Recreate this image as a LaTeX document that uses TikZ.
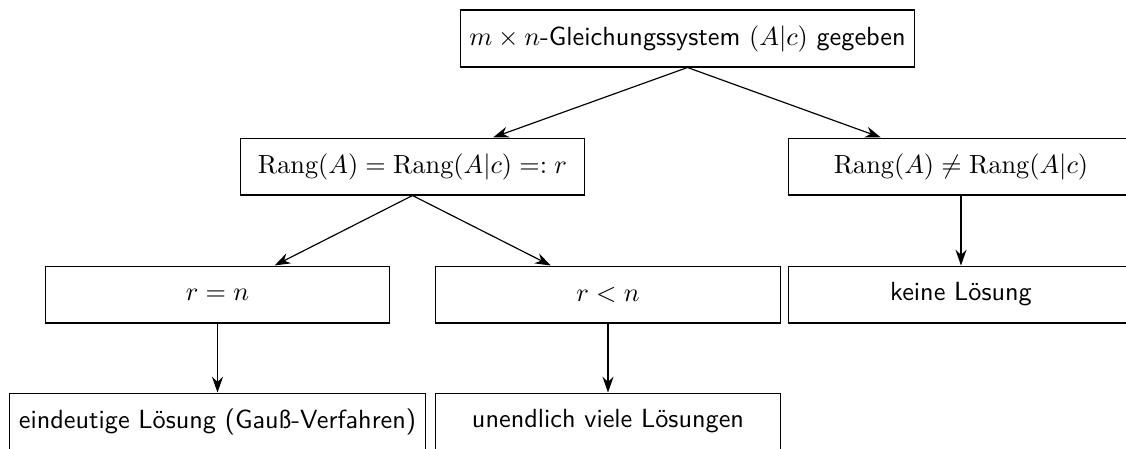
\documentclass[tikz,border=0pt]{standalone}
\usepackage{fontspec}
\usetikzlibrary{arrows.meta}
\tikzset{
  box/.style={draw, rectangle, font=\sffamily, minimum width=131.4pt,
    minimum height=21.7pt, inner sep=3.4pt, fill=white},
  arr/.style={-{Stealth[length=6pt,width=4.2pt]}, line width=0.45pt}
}
\begin{document}
\begin{tikzpicture}[x=0.381pt, y=-0.381pt]
  \useasboundingbox (0,0) rectangle (1126,448);
  \clip (0,0) rectangle (1126,448);
  % decision tree for an m x n linear system
  \node[box] (top)   at (687.5,38.5)  {$m\times n$-Gleichungssystem $(A|c)$ gegeben};
  \node[box] (eq)    at (412.5,166.5) {$\mathrm{Rang}(A)=\mathrm{Rang}(A|c)=:r$};
  \node[box] (neq)   at (961,166.5)   {$\mathrm{Rang}(A)\neq\mathrm{Rang}(A|c)$};
  \node[box] (rn)    at (217.5,294.5) {$r=n$};
  \node[box] (rl)    at (608,294.5)   {$r<n$};
  \node[box] (none)  at (961,294.5)   {keine Lösung};
  \node[box] (uniq)  at (217.5,421.5) {eindeutige Lösung (Gauß-Verfahren)};
  \node[box] (many)  at (608,421.5)   {unendlich viele Lösungen};
  % connectors
  \draw[arr] (top.south) -- (eq);
  \draw[arr] (top.south) -- (neq);
  \draw[arr] (eq.south) -- (rn);
  \draw[arr] (eq.south) -- (rl);
  \draw[arr] (neq.south) -- (none);
  \draw[arr] (rn.south) -- (uniq);
  \draw[arr] (rl.south) -- (many);
\end{tikzpicture}
\end{document}
